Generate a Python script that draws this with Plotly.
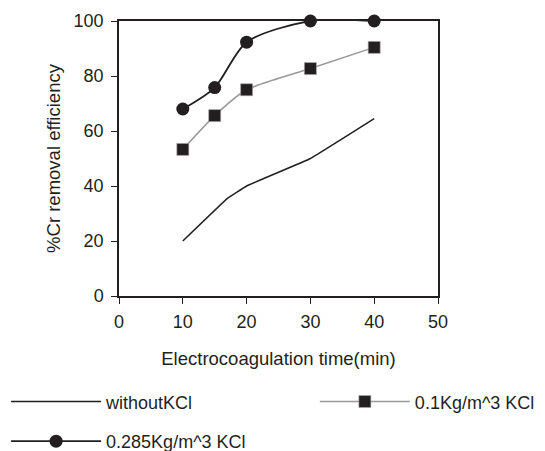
import plotly.graph_objects as go

time_none = [10, 17, 20, 30, 40]
eff_none = [20, 35.5, 40, 50, 64.5]

time_01 = [10, 15, 20, 30, 40]
eff_01 = [53.3, 65.6, 75.0, 82.7, 90.4]

time_0285 = [10, 15, 20, 30, 40]
eff_0285 = [68.0, 75.8, 92.3, 100, 100]

INK = "#231f20"
FONT = "Liberation Sans, Arial, sans-serif"

fig = go.Figure()
fig.add_trace(go.Scatter(x=time_none, y=eff_none, mode="lines", name="withoutKCl",
                         line=dict(color=INK, width=1.5, shape="spline", smoothing=0.2),
                         cliponaxis=False, legend="legend"))
fig.add_trace(go.Scatter(x=time_01, y=eff_01, mode="lines+markers", name="0.1Kg/m^3 KCl",
                         line=dict(color="#999999", width=1.5, shape="spline", smoothing=0.6),
                         marker=dict(symbol="square", size=12, color=INK,
                                     line=dict(color="#aaaaaa", width=0.6)),
                         cliponaxis=False, legend="legend2"))
fig.add_trace(go.Scatter(x=time_0285, y=eff_0285, mode="lines+markers", name="0.285Kg/m^3 KCl",
                         line=dict(color=INK, width=1.8, shape="spline", smoothing=0.8),
                         marker=dict(symbol="circle", size=13, color=INK),
                         cliponaxis=False, legend="legend3"))

leg_common = dict(xanchor="left", yanchor="middle", itemwidth=90,
                  font=dict(size=18, color=INK, family=FONT), bgcolor="rgba(0,0,0,0)")
fig.update_layout(
    width=545, height=451,
    margin=dict(l=119, r=107, t=21, b=155, autoexpand=False),
    paper_bgcolor="white", plot_bgcolor="white",
    font=dict(family=FONT, size=18, color=INK),
    showlegend=True,
    hovermode=False,
    legend=dict(x=-0.354, y=-0.385, **leg_common),
    legend2=dict(x=0.614, y=-0.385, **leg_common),
    legend3=dict(x=-0.354, y=-0.529, **leg_common),
)
fig.update_xaxes(range=[0, 50], tickvals=[0, 10, 20, 30, 40, 50], showgrid=False, zeroline=False,
                 showline=True, linecolor=INK, linewidth=1.5, mirror=True, automargin=False,
                 ticks="outside", ticklen=6, tickcolor=INK, tickwidth=1.2,
                 tickfont=dict(size=18), ticklabelstandoff=3,
                 title=dict(text="Electrocoagulation time(min)", font=dict(size=18.5), standoff=21))
fig.update_yaxes(range=[0, 100], tickvals=[0, 20, 40, 60, 80, 100], showgrid=False, zeroline=False,
                 showline=True, linecolor=INK, linewidth=1.5, mirror=True, automargin=False,
                 ticks="outside", ticklen=6, tickcolor=INK, tickwidth=1.2,
                 tickfont=dict(size=18), ticklabelstandoff=4,
                 title=dict(text="%Cr removal efficiency", font=dict(size=18.5), standoff=8))

fig.write_html("out.html", config={"displayModeBar": False},
               post_script="document.body.style.margin='0';")
